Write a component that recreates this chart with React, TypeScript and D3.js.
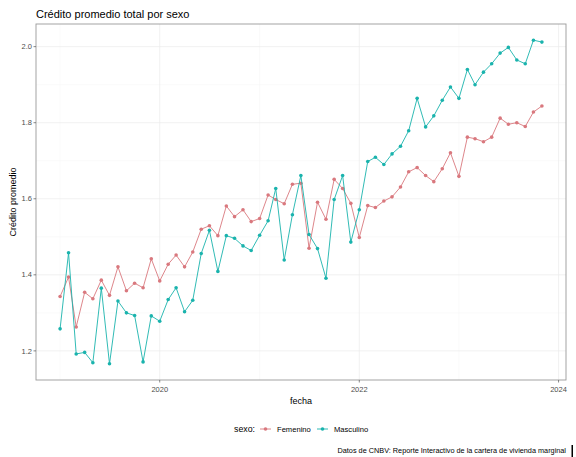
import React, { useEffect, useRef } from "react";
import * as d3 from "d3";

// months from Jan 2019 to Nov 2023
const months = [
  "2019-01", "2019-02", "2019-03", "2019-04", "2019-05", "2019-06", "2019-07", "2019-08", "2019-09", "2019-10", "2019-11", "2019-12",
  "2020-01", "2020-02", "2020-03", "2020-04", "2020-05", "2020-06", "2020-07", "2020-08", "2020-09", "2020-10", "2020-11", "2020-12",
  "2021-01", "2021-02", "2021-03", "2021-04", "2021-05", "2021-06", "2021-07", "2021-08", "2021-09", "2021-10", "2021-11", "2021-12",
  "2022-01", "2022-02", "2022-03", "2022-04", "2022-05", "2022-06", "2022-07", "2022-08", "2022-09", "2022-10", "2022-11", "2022-12",
  "2023-01", "2023-02", "2023-03", "2023-04", "2023-05", "2023-06", "2023-07", "2023-08", "2023-09", "2023-10", "2023-11",
];

const femenino = [
  1.343, 1.394, 1.263, 1.354, 1.337, 1.386, 1.346, 1.421, 1.358, 1.378, 1.366, 1.442,
  1.384, 1.428, 1.452, 1.421, 1.46, 1.52, 1.529, 1.503, 1.581, 1.553, 1.571, 1.54,
  1.548, 1.61, 1.598, 1.587, 1.638, 1.641, 1.47, 1.591, 1.546, 1.651, 1.627, 1.588,
  1.498, 1.582, 1.577, 1.594, 1.605, 1.631, 1.671, 1.682, 1.661, 1.645, 1.679, 1.721,
  1.659, 1.762, 1.758, 1.75, 1.762, 1.812, 1.796, 1.8, 1.79, 1.828, 1.844,
];

const masculino = [
  1.258, 1.458, 1.192, 1.196, 1.169, 1.365, 1.166, 1.331, 1.3, 1.293, 1.171, 1.292,
  1.278, 1.335, 1.366, 1.303, 1.333, 1.456, 1.517, 1.409, 1.503, 1.496, 1.476, 1.464,
  1.504, 1.542, 1.627, 1.439, 1.558, 1.661, 1.506, 1.469, 1.391, 1.598, 1.661, 1.486,
  1.571, 1.698, 1.709, 1.69, 1.718, 1.738, 1.779, 1.864, 1.789, 1.818, 1.859, 1.894,
  1.864, 1.94, 1.9, 1.933, 1.955, 1.983, 1.998, 1.965, 1.955, 2.017, 2.012,
];

const seriesNames = ["Femenino", "Masculino"];
const seriesColors = ["#d9787e", "#1ab3ad"];
const yTicks = [1.2, 1.4, 1.6, 1.8, 2.0];
const yMinor = [1.3, 1.5, 1.7, 1.9];
const xTickYears = [2020, 2022, 2024];
const xMinorYears = [2019, 2021, 2023];

interface Pt {
  date: Date;
  value: number;
}

const FONT = "'Liberation Sans', Arial, Helvetica, sans-serif";

export default function App() {
  const ref = useRef<SVGGElement>(null);

  const width = 576,
    height = 457;
  const panel = { left: 36, right: 566, top: 24, bottom: 380 };

  useEffect(() => {
    const g = d3.select(ref.current);
    g.selectAll("*").remove();

    const parse = d3.timeParse("%Y-%m");
    const dates = months.map((m) => parse(m) as Date);
    const series: Pt[][] = [femenino, masculino].map((vals) =>
      vals.map((v, i) => ({ date: dates[i], value: v }))
    );

    // ggplot-like 5% expansion
    const [d0, d1] = d3.extent(dates) as [Date, Date];
    const dSpan = +d1 - +d0;
    const x = d3
      .scaleTime()
      .domain([new Date(+d0 - dSpan * 0.05), new Date(+d1 + dSpan * 0.05)])
      .range([panel.left, panel.right]);

    const all = femenino.concat(masculino);
    const [v0, v1] = d3.extent(all) as [number, number];
    const vSpan = v1 - v0;
    const y = d3
      .scaleLinear()
      .domain([v0 - vSpan * 0.05, v1 + vSpan * 0.05])
      .range([panel.bottom, panel.top]);

    // panel background
    g.append("rect")
      .attr("x", panel.left)
      .attr("y", panel.top)
      .attr("width", panel.right - panel.left)
      .attr("height", panel.bottom - panel.top)
      .attr("fill", "white");

    // grid lines
    const grid = g.append("g");
    grid
      .selectAll("line.ymin")
      .data(yMinor)
      .enter()
      .append("line")
      .attr("x1", panel.left)
      .attr("x2", panel.right)
      .attr("y1", (d) => y(d))
      .attr("y2", (d) => y(d))
      .attr("stroke", "#f5f5f5")
      .attr("stroke-width", 0.5);
    grid
      .selectAll("line.xmin")
      .data(xMinorYears)
      .enter()
      .append("line")
      .attr("x1", (d) => x(new Date(d, 0, 1)))
      .attr("x2", (d) => x(new Date(d, 0, 1)))
      .attr("y1", panel.top)
      .attr("y2", panel.bottom)
      .attr("stroke", "#f5f5f5")
      .attr("stroke-width", 0.5);
    grid
      .selectAll("line.ymaj")
      .data(yTicks)
      .enter()
      .append("line")
      .attr("x1", panel.left)
      .attr("x2", panel.right)
      .attr("y1", (d) => y(d))
      .attr("y2", (d) => y(d))
      .attr("stroke", "#ebebeb")
      .attr("stroke-width", 0.7);
    grid
      .selectAll("line.xmaj")
      .data(xTickYears)
      .enter()
      .append("line")
      .attr("x1", (d) => x(new Date(d, 0, 1)))
      .attr("x2", (d) => x(new Date(d, 0, 1)))
      .attr("y1", panel.top)
      .attr("y2", panel.bottom)
      .attr("stroke", "#ebebeb")
      .attr("stroke-width", 0.7);

    // lines and points
    const line = d3
      .line<Pt>()
      .x((d) => x(d.date))
      .y((d) => y(d.value));

    series.forEach((s, i) => {
      g.append("path")
        .datum(s)
        .attr("fill", "none")
        .attr("stroke", seriesColors[i])
        .attr("stroke-width", 0.9)
        .attr("d", line);
      g.selectAll("circle.s" + i)
        .data(s)
        .enter()
        .append("circle")
        .attr("cx", (d) => x(d.date))
        .attr("cy", (d) => y(d.value))
        .attr("r", 1.8)
        .attr("fill", seriesColors[i]);
    });

    // panel border
    g.append("rect")
      .attr("x", panel.left)
      .attr("y", panel.top)
      .attr("width", panel.right - panel.left)
      .attr("height", panel.bottom - panel.top)
      .attr("fill", "none")
      .attr("stroke", "#9a9a9a")
      .attr("stroke-width", 0.9);

    // y axis ticks
    const yAx = g.append("g");
    yAx
      .selectAll("line")
      .data(yTicks)
      .enter()
      .append("line")
      .attr("x1", panel.left - 2.5)
      .attr("x2", panel.left)
      .attr("y1", (d) => y(d))
      .attr("y2", (d) => y(d))
      .attr("stroke", "#555")
      .attr("stroke-width", 0.7);
    yAx
      .selectAll("text")
      .data(yTicks)
      .enter()
      .append("text")
      .attr("x", panel.left - 4)
      .attr("y", (d) => y(d))
      .attr("dy", "0.35em")
      .attr("text-anchor", "end")
      .attr("font-size", 7.5)
      .attr("fill", "#4d4d4d")
      .text((d) => d3.format(".1f")(d));

    // x axis ticks
    const xAx = g.append("g");
    xAx
      .selectAll("line")
      .data(xTickYears)
      .enter()
      .append("line")
      .attr("x1", (d) => x(new Date(d, 0, 1)))
      .attr("x2", (d) => x(new Date(d, 0, 1)))
      .attr("y1", panel.bottom)
      .attr("y2", panel.bottom + 2.5)
      .attr("stroke", "#555")
      .attr("stroke-width", 0.7);
    xAx
      .selectAll("text")
      .data(xTickYears)
      .enter()
      .append("text")
      .attr("x", (d) => x(new Date(d, 0, 1)))
      .attr("y", panel.bottom + 12)
      .attr("text-anchor", "middle")
      .attr("font-size", 7.5)
      .attr("fill", "#4d4d4d")
      .text((d) => String(d));
  }, []);

  const legendX = [260, 317];
  const legendTextX = [277, 334];

  return (
    <svg
      width={width}
      height={height}
      style={{ position: "absolute", left: 0, top: 0, fontFamily: FONT }}
    >
      <rect width={width} height={height} fill="white" />
      <text x={36} y={17.5} fontSize={11} fill="#000">
        Crédito promedio total por sexo
      </text>
      <g ref={ref} />
      <text
        transform={`translate(16, ${(panel.top + panel.bottom) / 2}) rotate(-90)`}
        textAnchor="middle"
        fontSize={9}
        fill="#000"
      >
        Crédito promedio
      </text>
      <text x={(panel.left + panel.right) / 2} y={404} textAnchor="middle" fontSize={9} fill="#000">
        fecha
      </text>
      <text x={234} y={432} fontSize={8.8} fill="#000">
        sexo:
      </text>
      {seriesNames.map((n, i) => (
        <g key={n}>
          <line
            x1={legendX[i]}
            x2={legendX[i] + 11}
            y1={429}
            y2={429}
            stroke={seriesColors[i]}
            strokeWidth={0.9}
          />
          <circle cx={legendX[i] + 5.5} cy={429} r={1.8} fill={seriesColors[i]} />
          <text x={legendTextX[i]} y={431.7} fontSize={7.6} fill="#000">
            {n}
          </text>
        </g>
      ))}
      <text x={566} y={452.5} textAnchor="end" fontSize={7.3} fill="#000">
        Datos de CNBV: Reporte Interactivo de la cartera de vivienda marginal
      </text>
      <rect x={571.5} y={445} width={1.5} height={12} fill="#000" />
    </svg>
  );
}
